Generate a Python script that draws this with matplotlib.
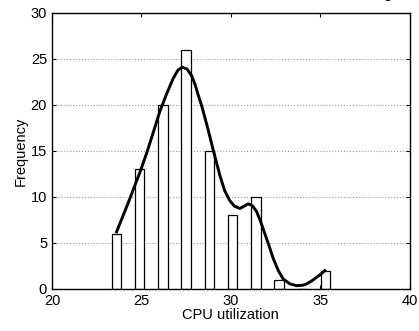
import matplotlib.pyplot as plt

plt.rcParams['font.family'] = ['Liberation Sans', 'DejaVu Sans']
plt.rcParams['font.size'] = 10

# histogram bins (centres) and counts
bin_centres = [23.6, 24.9, 26.2, 27.5, 28.8, 30.1, 31.4, 32.7, 34.0, 35.3]
counts = [6, 13, 20, 26, 15, 8, 10, 1, 0, 2]

# fitted curve
curve_x = [23.61, 24.25, 24.92, 25.3, 25.66, 26.03, 26.41, 26.78, 27.05, 27.28,
           27.55, 27.80, 28.0, 28.17, 28.37, 28.55, 28.73, 29.0, 29.39, 29.65,
           29.94, 30.2, 30.5, 30.75, 30.97, 31.2, 31.43, 31.65, 31.90, 32.15,
           32.37, 32.65, 32.92, 33.3, 33.67, 34.0, 34.23, 34.5, 34.79, 35.05,
           35.25]
curve_y = [6.2, 9.3, 12.7, 14.8, 17.0, 19.3, 21.2, 22.9, 23.8, 24.1,
           23.9, 23.2, 22.2, 21.1, 19.9, 18.6, 17.3, 15.2, 12.3, 10.7,
           9.6, 9.0, 8.75, 9.0, 9.25, 9.05, 8.45, 7.4, 6.0, 4.6,
           3.3, 2.0, 1.1, 0.55, 0.36, 0.4, 0.54, 0.85, 1.26, 1.65,
           1.99]

fig = plt.figure(figsize=(4.19, 3.31), dpi=100)
ax = fig.add_axes([0.124, 0.127, 0.854, 0.834])

ax.bar(bin_centres, counts, width=0.53, color='white', edgecolor='black',
       linewidth=0.9, zorder=2)
ax.plot(curve_x, curve_y, color='black', linewidth=2.1, zorder=3)

ax.set_xlim(20, 40)
ax.set_ylim(0, 30)
ax.set_xticks([20, 25, 30, 35, 40])
ax.set_yticks([0, 5, 10, 15, 20, 25, 30])
ax.yaxis.grid(True, linestyle=':', color='#999999', linewidth=0.8)
ax.set_axisbelow(True)
ax.tick_params(direction='in', top=True, right=True, length=3, labelsize=10.5)
for s in ax.spines.values():
    s.set_linewidth(1.0)

ax.set_xlabel('CPU utilization', fontsize=10.5, labelpad=0)
ax.set_ylabel('Frequency', fontsize=10.5, labelpad=2)

# title lies mostly above the figure edge, only a descender shows
fig.text(0.925, 1.005, 'g', fontsize=11, ha='center', va='baseline')

fig.savefig('out.png', dpi=100)
